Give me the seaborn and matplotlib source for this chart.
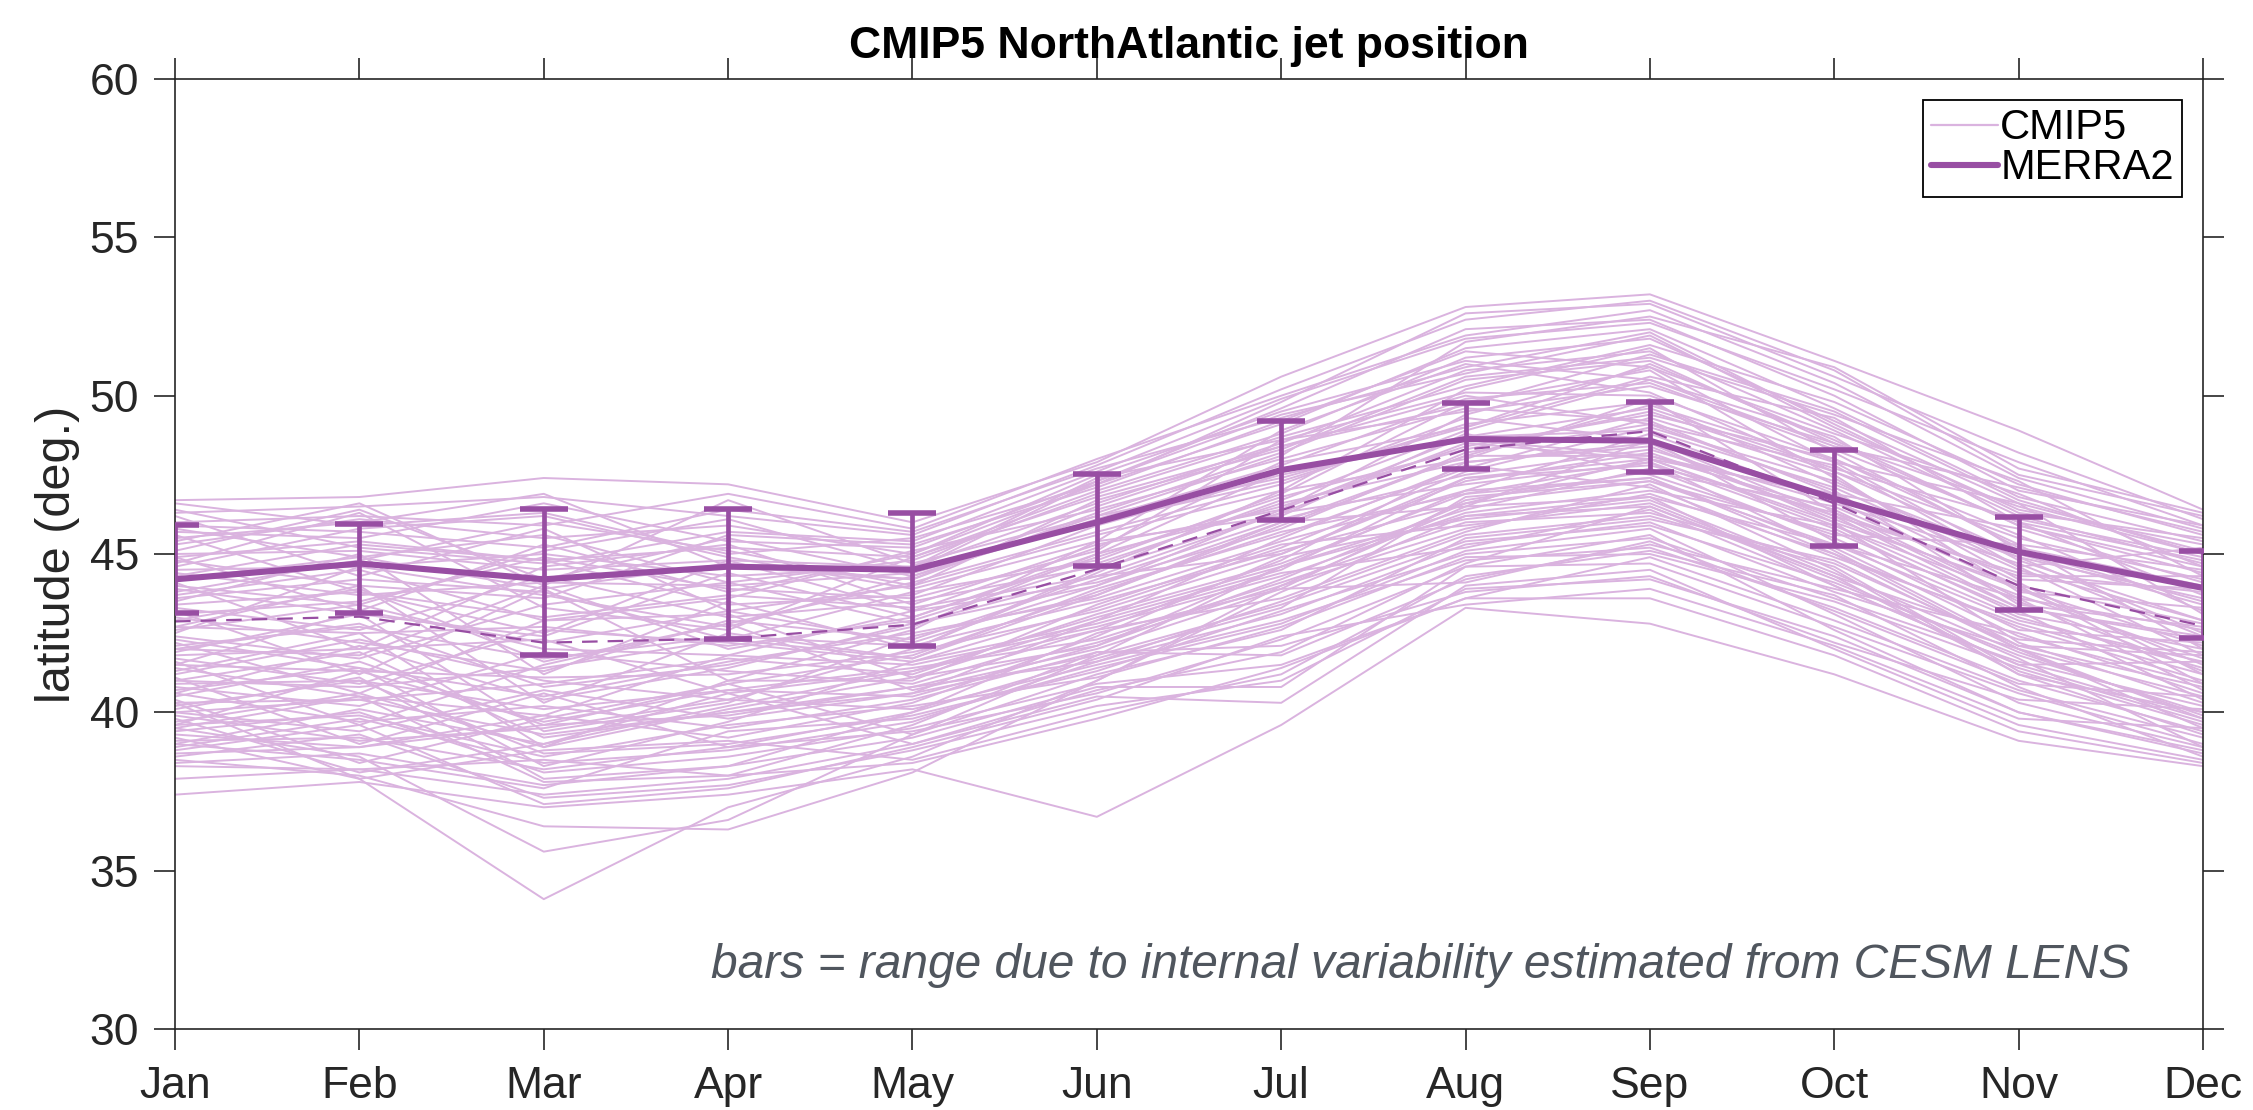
import matplotlib
matplotlib.use("Agg")
import matplotlib.pyplot as plt
from matplotlib.lines import Line2D
import numpy as np
import pandas as pd
import seaborn as sns

# ---------------------------------------------------------------- data
months = ["Jan", "Feb", "Mar", "Apr", "May", "Jun",
          "Jul", "Aug", "Sep", "Oct", "Nov", "Dec"]

# MERRA2 monthly jet latitude and the internal-variability range (CESM LENS)
merra2_lat = [44.2, 44.7, 44.2, 44.6, 44.5, 46.0, 47.65, 48.63, 48.58, 46.75, 45.07, 43.93]
merra2_low = [43.15, 43.13, 41.82, 42.3, 42.1, 44.63, 46.08, 47.68, 47.6, 45.24, 43.24, 42.36]
merra2_high = [45.92, 45.95, 46.42, 46.42, 46.3, 47.54, 49.2, 49.78, 49.8, 48.3, 46.18, 45.1]

# CMIP5 multi-model mean (dashed)
cmip5_mean = [42.87, 43.02, 42.2, 42.33, 42.77, 44.52, 46.38, 48.3, 48.88, 46.6, 44.0, 42.73]

# individual CMIP5 runs
outlier_runs = [
    [40.3, 37.9, 34.1, 37.0, 38.6, 41.0, 44.0, 46.5, 46.8, 44.0, 41.5, 39.8],
    [39.5, 38.6, 35.6, 36.6, 39.3, 41.8, 44.6, 47.0, 47.4, 45.0, 42.0, 40.5],
    [38.5, 38.0, 36.4, 36.3, 38.1, 41.0, 43.8, 46.2, 46.5, 44.3, 41.2, 39.3],
    [37.4, 37.8, 37.0, 37.4, 38.2, 36.7, 39.6, 43.3, 42.8, 41.2, 39.1, 38.3],
    [37.9, 38.2, 37.4, 37.9, 39.0, 40.5, 40.3, 44.0, 44.5, 42.0, 39.6, 38.5],
    [38.4, 38.7, 37.7, 38.3, 39.2, 40.8, 40.8, 44.6, 45.6, 42.6, 40.0, 38.8],
    [46.7, 46.8, 47.4, 47.2, 46.0, 47.9, 50.6, 52.8, 53.2, 51.1, 48.9, 46.4],
]

poleward_runs = [
    [46.3, 46.5, 46.8, 46.2, 45.6, 47.8, 50.2, 52.4, 53.0, 50.8, 47.5, 46.2],
    [46.0, 46.2, 45.9, 46.9, 45.8, 48.0, 50.0, 51.9, 52.7, 50.4, 47.4, 45.8],
    [45.7, 45.5, 46.6, 45.4, 45.2, 47.3, 49.6, 52.1, 52.4, 50.0, 47.0, 45.9],
    [45.3, 46.1, 45.5, 45.9, 45.0, 47.2, 49.1, 51.5, 52.1, 49.6, 46.8, 45.4],
    [44.9, 45.4, 44.8, 45.2, 44.9, 47.0, 48.8, 51.2, 51.8, 49.2, 46.6, 45.1],
    [44.5, 44.6, 45.0, 44.3, 44.6, 46.6, 48.5, 50.8, 51.4, 48.9, 46.2, 44.7],
    [44.2, 44.9, 43.9, 44.7, 44.2, 46.3, 48.2, 50.5, 51.1, 48.5, 45.9, 44.4],
    [45.8, 44.9, 45.6, 44.1, 44.8, 46.9, 48.7, 50.3, 51.6, 49.8, 47.2, 45.6],
    [45.1, 46.4, 44.2, 45.5, 44.3, 46.1, 47.8, 49.9, 50.4, 48.3, 46.0, 44.8],
    [44.6, 45.8, 46.2, 44.9, 43.9, 45.4, 48.9, 51.0, 50.1, 47.6, 45.5, 44.2],
    [44.0, 43.4, 45.1, 46.1, 44.5, 47.3, 49.4, 50.7, 51.9, 49.0, 46.4, 45.3],
    [46.4, 45.2, 44.7, 45.7, 45.4, 47.6, 49.9, 51.8, 52.3, 50.2, 47.9, 45.9],
    [45.5, 46.0, 46.9, 44.6, 44.2, 46.5, 48.4, 49.7, 51.3, 49.5, 46.7, 45.0],
    [44.8, 44.0, 43.6, 45.6, 45.3, 47.1, 49.2, 51.4, 50.9, 48.8, 46.9, 44.6],
    [45.9, 45.7, 45.2, 46.4, 45.7, 47.7, 49.3, 50.9, 52.0, 49.1, 46.3, 45.5],
    [45.0, 45.1, 44.5, 44.8, 44.6, 47.4, 48.6, 50.1, 50.0, 48.0, 45.3, 44.5],
]

central_runs = [
    [43.7, 44.5, 42.9, 43.6, 45.1, 46.4, 48.0, 49.6, 49.2, 46.9, 45.8, 44.1],
    [43.3, 42.6, 44.3, 43.0, 43.5, 44.6, 46.7, 48.9, 50.5, 48.7, 45.1, 43.5],
    [42.9, 43.9, 41.6, 42.8, 44.1, 45.7, 47.2, 49.3, 48.6, 46.2, 44.4, 43.8],
    [42.4, 41.7, 43.4, 44.1, 42.8, 44.0, 46.0, 48.1, 49.7, 47.9, 44.8, 42.9],
    [42.0, 42.8, 40.8, 41.5, 42.7, 45.0, 47.6, 48.6, 48.1, 46.4, 43.6, 42.6],
    [41.7, 40.9, 42.6, 42.2, 41.6, 43.3, 45.2, 47.6, 49.0, 47.3, 44.6, 41.8],
    [41.2, 42.3, 41.0, 40.4, 42.0, 44.5, 46.3, 47.2, 47.9, 45.8, 43.1, 42.0],
    [40.8, 40.2, 41.9, 41.3, 40.9, 42.6, 44.8, 47.9, 48.4, 46.1, 43.9, 41.5],
    [44.3, 45.3, 44.8, 43.4, 43.7, 45.9, 47.5, 48.7, 49.6, 47.7, 46.1, 44.9],
    [43.9, 43.1, 42.4, 44.4, 43.0, 45.0, 46.5, 48.4, 49.4, 48.0, 45.6, 43.2],
    [43.6, 44.2, 43.8, 42.3, 43.8, 44.8, 46.9, 49.8, 50.8, 47.4, 44.2, 43.9],
    [43.0, 42.2, 41.3, 42.9, 42.3, 44.2, 46.1, 47.5, 48.3, 46.6, 44.7, 42.4],
    [42.6, 43.4, 42.0, 41.8, 43.2, 44.1, 45.8, 48.2, 49.1, 47.0, 43.4, 42.7],
    [42.3, 41.4, 40.5, 41.6, 42.5, 43.6, 45.4, 47.0, 48.8, 46.7, 43.9, 42.1],
    [41.8, 42.0, 42.3, 40.6, 41.3, 43.0, 44.6, 46.4, 47.7, 45.5, 43.0, 41.4],
    [41.4, 40.5, 39.9, 41.8, 41.5, 42.7, 44.3, 46.3, 47.0, 45.9, 43.7, 41.7],
    [44.4, 43.7, 44.1, 44.0, 44.4, 46.0, 47.3, 49.1, 49.8, 47.2, 44.9, 43.6],
    [43.4, 43.8, 43.0, 43.7, 43.3, 44.3, 46.3, 48.5, 48.0, 45.9, 43.3, 42.3],
    [42.7, 42.5, 42.7, 42.1, 42.9, 44.7, 46.6, 47.9, 48.5, 46.0, 44.0, 42.8],
    [42.1, 42.7, 41.7, 42.4, 42.1, 43.5, 45.1, 46.6, 47.3, 45.3, 42.9, 41.6],
    [41.5, 41.3, 41.1, 41.2, 41.9, 43.2, 45.0, 47.3, 48.2, 46.2, 43.3, 42.4],
]

equatorward_runs = [
    [40.5, 41.6, 39.6, 40.9, 41.8, 43.8, 45.7, 46.9, 47.4, 45.2, 42.4, 40.9],
    [40.0, 39.4, 40.7, 39.8, 40.6, 42.9, 45.5, 47.8, 47.1, 44.9, 42.8, 41.2],
    [39.7, 40.6, 38.9, 40.1, 41.1, 42.1, 44.2, 46.6, 48.0, 46.0, 42.2, 40.3],
    [39.3, 38.9, 39.9, 39.2, 40.3, 42.4, 44.9, 46.1, 46.7, 44.4, 41.9, 39.9],
    [38.9, 39.8, 38.4, 38.8, 39.7, 41.6, 43.5, 45.6, 46.2, 44.6, 41.3, 39.6],
    [41.0, 41.9, 39.2, 40.0, 40.8, 42.2, 44.0, 45.8, 46.9, 45.0, 42.7, 41.0],
    [40.6, 39.7, 40.2, 39.5, 40.4, 41.9, 41.8, 44.2, 45.3, 43.9, 42.5, 40.6],
    [40.2, 41.0, 38.7, 39.0, 39.9, 41.3, 43.2, 45.0, 45.5, 43.6, 41.6, 40.2],
    [39.9, 39.1, 39.5, 40.4, 40.1, 41.5, 42.9, 44.8, 45.2, 43.3, 41.0, 39.4],
    [39.4, 40.0, 38.1, 38.6, 39.5, 40.9, 41.5, 43.6, 44.9, 42.9, 40.7, 39.2],
    [39.0, 38.5, 37.6, 39.4, 39.8, 41.4, 42.8, 45.1, 45.8, 43.1, 40.3, 38.9],
    [38.6, 39.3, 37.3, 37.7, 38.8, 40.2, 41.0, 43.9, 44.2, 42.4, 40.0, 38.7],
    [40.9, 41.0, 40.1, 40.7, 41.4, 42.3, 44.1, 46.0, 46.3, 44.7, 42.1, 40.8],
    [40.3, 40.4, 39.3, 40.0, 40.6, 41.8, 43.4, 45.4, 45.9, 44.1, 41.8, 40.0],
    [39.6, 39.9, 38.6, 39.6, 40.2, 41.1, 42.7, 44.9, 45.0, 43.5, 41.4, 39.7],
    [39.1, 39.2, 38.2, 38.9, 39.4, 40.6, 42.3, 44.6, 44.7, 42.7, 40.6, 39.0],
]

mixed_runs = [
    [46.2, 44.3, 45.8, 43.2, 44.0, 45.6, 47.0, 50.2, 51.5, 48.2, 45.2, 44.0],
    [45.6, 43.8, 42.5, 44.8, 43.2, 45.2, 47.9, 49.0, 50.6, 49.3, 46.0, 43.7],
    [44.7, 46.3, 43.3, 42.6, 44.9, 46.8, 48.4, 50.0, 49.1, 47.8, 44.6, 45.2],
    [44.1, 42.0, 44.6, 45.3, 43.4, 45.3, 46.4, 49.4, 50.9, 47.9, 46.6, 43.1],
    [43.5, 45.0, 41.2, 43.5, 42.0, 44.4, 47.0, 48.0, 49.9, 46.3, 44.3, 44.3],
    [43.2, 41.2, 43.9, 41.0, 42.6, 45.4, 46.2, 48.8, 47.5, 45.6, 45.3, 42.0],
    [42.7, 44.0, 40.3, 42.5, 41.7, 43.9, 45.6, 47.7, 49.3, 47.5, 43.8, 43.3],
    [42.2, 40.6, 42.9, 43.1, 41.1, 42.9, 44.5, 47.4, 48.0, 46.9, 44.1, 41.2],
    [41.9, 43.1, 39.4, 40.3, 42.4, 43.7, 46.0, 46.5, 48.6, 45.4, 42.6, 42.2],
    [41.6, 39.6, 41.5, 42.8, 40.7, 42.0, 43.9, 46.7, 47.6, 46.5, 44.0, 40.9],
    [41.3, 42.5, 38.9, 41.0, 41.0, 43.4, 45.3, 45.9, 46.6, 44.3, 42.3, 41.9],
    [41.1, 39.0, 40.6, 38.9, 40.0, 41.7, 43.3, 46.8, 47.3, 45.7, 43.2, 40.4],
    [40.7, 41.4, 38.3, 39.7, 41.6, 42.8, 44.4, 45.2, 46.4, 44.0, 41.5, 41.6],
    [40.4, 38.4, 39.8, 40.9, 39.3, 41.2, 42.6, 45.5, 46.1, 44.8, 42.0, 39.5],
    [40.1, 41.1, 37.9, 38.3, 40.0, 42.5, 43.9, 44.1, 45.4, 43.2, 40.9, 40.5],
    [39.8, 38.1, 39.0, 40.6, 39.0, 40.7, 41.9, 44.7, 46.5, 44.2, 41.7, 38.9],
    [39.5, 40.5, 37.8, 38.0, 39.6, 41.9, 42.1, 43.8, 44.3, 42.2, 40.4, 40.1],
    [39.2, 37.9, 38.8, 39.1, 38.5, 40.0, 41.2, 44.3, 45.1, 43.7, 40.8, 38.6],
    [38.8, 39.6, 37.1, 37.6, 38.9, 40.4, 42.4, 43.4, 43.9, 42.1, 39.8, 39.5],
    [38.3, 38.2, 38.5, 38.0, 38.4, 39.8, 41.4, 43.6, 43.6, 41.8, 39.4, 38.4],
    [46.6, 45.9, 46.3, 45.0, 45.5, 47.2, 49.8, 52.6, 52.9, 50.6, 48.2, 46.1],
    [45.4, 46.6, 44.0, 46.7, 44.7, 46.2, 48.1, 51.7, 52.5, 50.9, 47.7, 46.3],
    [44.9, 43.2, 45.3, 43.8, 45.0, 47.5, 49.5, 51.1, 50.5, 48.4, 47.1, 45.7],
    [43.8, 44.8, 46.0, 45.1, 44.0, 46.7, 48.3, 50.6, 51.2, 49.4, 47.3, 44.3],
    [43.1, 43.5, 44.9, 43.9, 43.6, 45.1, 48.6, 49.5, 50.3, 48.5, 46.5, 45.0],
    [42.5, 44.6, 43.7, 42.7, 44.3, 46.2, 47.4, 49.0, 51.0, 48.6, 45.9, 44.6],
    [42.0, 41.8, 44.0, 42.0, 43.0, 44.9, 46.8, 48.3, 49.5, 47.6, 45.0, 43.4],
    [41.5, 43.2, 42.2, 43.2, 42.2, 44.0, 46.4, 48.7, 48.9, 47.1, 44.5, 42.9],
    [41.0, 40.8, 41.4, 42.3, 41.7, 43.7, 45.9, 48.1, 48.1, 46.8, 44.9, 42.5],
    [40.6, 42.1, 40.4, 41.4, 42.8, 44.3, 45.0, 47.4, 47.8, 46.3, 43.5, 41.3],
    [40.0, 40.4, 40.9, 41.7, 41.2, 43.1, 44.7, 46.9, 47.9, 45.1, 42.1, 41.8],
    [39.6, 41.3, 39.7, 40.7, 40.5, 42.1, 44.6, 46.2, 46.8, 45.3, 43.6, 40.7],
    [39.0, 40.1, 39.0, 40.2, 41.3, 42.6, 43.6, 45.7, 47.2, 44.5, 41.2, 40.0],
    [38.7, 38.9, 39.6, 39.9, 40.8, 41.6, 43.1, 45.3, 46.0, 43.8, 42.0, 39.8],
]

# ---------------------------------------------------------------- styling
light = "#DAB3DF"
purple = "#984EA3"
axis_col = "#262626"

sns.set_theme(style="white")
plt.rcParams["font.family"] = ["Liberation Sans", "DejaVu Sans"]

runs = outlier_runs + poleward_runs + central_runs + equatorward_runs + mixed_runs
month_idx = np.arange(len(months))
cmip5_df = pd.DataFrame(
    [(r, m, v) for r, run in enumerate(runs) for m, v in zip(month_idx, run)],
    columns=["run", "month", "lat"],
)

fig = plt.figure(figsize=(22.53, 11.10), dpi=100)
ax = fig.add_axes([0.0777, 0.073, 0.9001, 0.8558])

sns.lineplot(data=cmip5_df, x="month", y="lat", units="run", estimator=None,
             color=light, lw=1.4, sort=False, legend=False, ax=ax)

sns.lineplot(x=month_idx, y=cmip5_mean, color=purple, lw=1.6,
             linestyle=(0, (7, 4.5)), ax=ax)

sns.lineplot(x=month_idx, y=merra2_lat, color=purple, lw=4.4, ax=ax)

m = np.array(merra2_lat)
yerr = [m - np.array(merra2_low), np.array(merra2_high) - m]
ax.errorbar(month_idx, m, yerr=yerr, fmt="none", ecolor=purple,
            elinewidth=3.4, capsize=17, capthick=4.0, zorder=5)

ax.set_xlim(0, 11)
ax.set_ylim(30, 60)
ax.set_xticks(month_idx)
ax.set_xticklabels(months)
ax.set_yticks(np.arange(30, 61, 5))
ax.set_xlabel("")
ax.set_ylabel("latitude (deg.)", fontsize=35, color=axis_col, labelpad=7)

ax.tick_params(axis="both", which="major", direction="out", length=15,
               width=1.2, color=axis_col, labelcolor=axis_col, labelsize=32,
               top=True, right=True, bottom=True, left=True,
               labeltop=False, labelright=False)
ax.tick_params(axis="y", pad=11)
ax.tick_params(axis="x", pad=11.5)
for sp in ax.spines.values():
    sp.set_visible(True)
    sp.set_color(axis_col)
    sp.set_linewidth(1.2)

ax.set_title("CMIP5 NorthAtlantic jet position", fontsize=32,
             fontweight="bold", color="black", pad=15)

handles = [Line2D([], [], color=light, lw=1.6),
           Line2D([], [], color=purple, lw=4.4)]
leg = ax.legend(handles, ["CMIP5", "MERRA2"], loc="upper right", fontsize=30,
                frameon=True, fancybox=False, edgecolor="black", framealpha=1,
                borderaxespad=0.5, borderpad=0.2, labelspacing=0.0,
                handlelength=1.6, handletextpad=0.05)
leg.get_frame().set_linewidth(1.3)
for t in leg.get_texts():
    t.set_color("black")

ax.text(0.964, 0.0663,
        "bars = range due to internal variability estimated from CESM LENS",
        transform=ax.transAxes, ha="right", va="center", fontsize=34.5,
        style="italic", color="#50565E")

fig.savefig("out.png", dpi=100)
